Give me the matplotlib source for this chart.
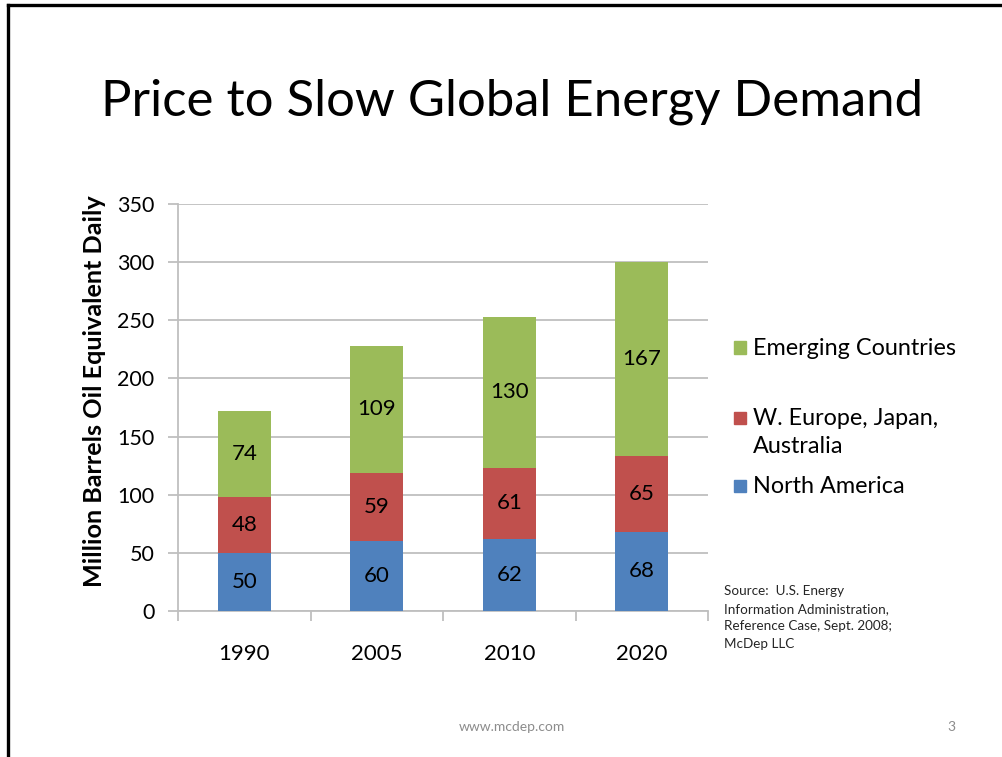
import matplotlib
matplotlib.use('Agg')
import matplotlib.pyplot as plt
import numpy as np
from matplotlib.lines import Line2D
from matplotlib.patches import Rectangle

plt.rcParams['font.family'] = ['Lato', 'DejaVu Sans']

# data
years = ['1990', '2005', '2010', '2020']
north_america = [50, 60, 62, 68]
europe_japan = [48, 59, 61, 65]
emerging = [74, 109, 130, 167]
series_names = ['North America', 'W. Europe, Japan,\nAustralia', 'Emerging Countries']
y_ticks = [0, 50, 100, 150, 200, 250, 300, 350]

colors = ['#4F81BD', '#C0504D', '#9BBB59']
grid_gray = '#BFBFBF'

fig = plt.figure(figsize=(10.03, 7.57), dpi=100)
fig.patch.set_facecolor('white')

# slide frame (top and left only visible)
fig.add_artist(Line2D([0.008, 1.0], [0.9935, 0.9935], color='black', lw=2.4))
fig.add_artist(Line2D([0.008, 0.008], [0.0, 0.9935], color='black', lw=2.4))

fig.text(0.511, 0.865, 'Price to Slow Global Energy Demand', ha='center', va='center',
         fontsize=36.6, color='black')

ax = fig.add_axes([0.1775, 0.1929, 0.5284, 0.5376])
x = np.arange(len(years))
bottom = np.zeros(len(years))
for vals, col in zip([north_america, europe_japan, emerging], colors):
    ax.bar(x, vals, width=0.4, bottom=bottom, color=col, zorder=3)
    for xi, b, v in zip(x, bottom, vals):
        ax.text(xi, b + v / 2, str(v), ha='center', va='center', fontsize=16,
                color='black', zorder=4)
    bottom += np.array(vals)

ax.set_xlim(-0.5, len(years) - 0.5)
ax.set_ylim(0, 350)
ax.set_yticks(y_ticks)
ax.set_yticklabels([str(t) for t in y_ticks], fontsize=15.5)
ax.yaxis.grid(True, color=grid_gray, lw=1.3, zorder=0)
ax.tick_params(axis='y', length=7, color=grid_gray, width=1.3, pad=10)

ax.set_xticks(x)
ax.set_xticklabels(years, fontsize=16)
ax.set_xticks(np.arange(len(years) + 1) - 0.5, minor=True)
ax.tick_params(axis='x', which='major', length=0, pad=24)
ax.tick_params(axis='x', which='minor', length=7, color=grid_gray, width=1.3)

for side in ['top', 'right']:
    ax.spines[side].set_visible(False)
for side in ['left', 'bottom']:
    ax.spines[side].set_color(grid_gray)
    ax.spines[side].set_linewidth(1.3)

ax.set_ylabel('Million Barrels Oil Equivalent Daily', fontsize=18.2, fontweight='bold')
ax.yaxis.set_label_coords(-0.135, 0.539)

# legend drawn by hand to keep Excel-style spacing
legend_y = [0.358, 0.448, 0.541]
for name, col, ly in zip(series_names, colors, legend_y):
    fig.add_artist(Rectangle((0.732, ly - 0.008), 0.012, 0.016, transform=fig.transFigure,
                             color=col))
    fig.text(0.751, ly + 0.013, name, ha='left', va='top', fontsize=16.8,
             linespacing=1.4, color='black')

fig.text(0.722, 0.227, 'Source:  U.S. Energy\nInformation Administration,\n'
         'Reference Case, Sept. 2008;\nMcDep LLC', ha='left', va='top', fontsize=9.7,
         linespacing=1.55, color='#262626')

fig.text(0.510, 0.040, 'www.mcdep.com', ha='center', va='center', fontsize=10, color='#8C8C8C')
fig.text(0.949, 0.040, '3', ha='center', va='center', fontsize=10, color='#8C8C8C')

plt.savefig('out.png', dpi=100)
plt.close()
